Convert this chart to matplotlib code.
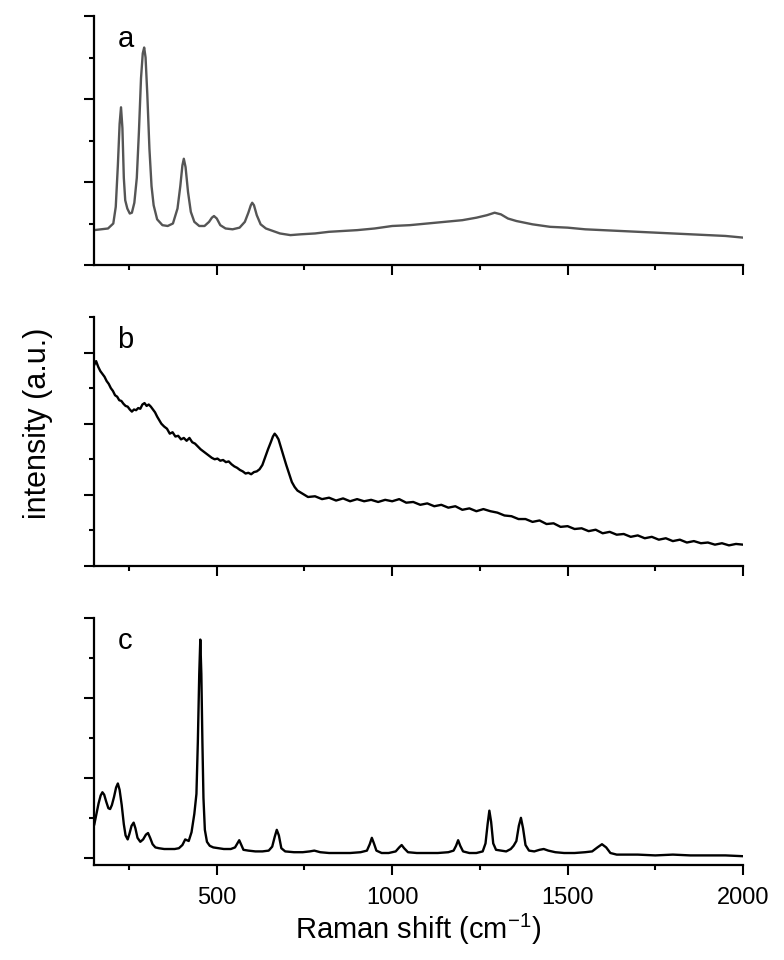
"""
Raman spectra, three stacked panels (a, b, c).
"""

import matplotlib

matplotlib.use("Agg")

import matplotlib.pyplot as plt
from matplotlib.ticker import MultipleLocator

plt.rcParams["font.family"] = ["Liberation Sans", "DejaVu Sans"]
plt.rcParams["mathtext.default"] = "regular"

# ---- data ----

shift_a = [
    150, 170, 190, 205, 212, 218, 223, 227, 231, 235, 239, 245, 252, 258,
    265, 272, 278, 284, 289, 293, 297, 302, 308, 314, 320, 330, 345, 360,
    375, 388, 396, 402, 406, 411, 418, 426, 436, 450, 465, 478, 486, 492,
    500, 510, 525, 545, 565, 580, 590, 597, 601, 606, 614, 625, 640, 660,
    680, 710, 740, 780, 820, 860, 900, 950, 1000, 1050, 1100, 1150, 1200,
    1240, 1270, 1292, 1310, 1330, 1354, 1400, 1450, 1500, 1550, 1600, 1650,
    1700, 1750, 1800, 1850, 1900, 1950, 2000,
]
intensity_a = [
    0.42, 0.43, 0.44, 0.50, 0.70, 1.20, 1.70, 1.90, 1.65, 1.05, 0.78, 0.68,
    0.62, 0.63, 0.75, 1.05, 1.60, 2.25, 2.55, 2.62, 2.50, 2.05, 1.40, 0.95,
    0.72, 0.55, 0.48, 0.47, 0.50, 0.68, 0.95, 1.20, 1.28, 1.18, 0.88, 0.64,
    0.52, 0.47, 0.47, 0.52, 0.57, 0.59, 0.56, 0.48, 0.44, 0.43, 0.45, 0.52,
    0.63, 0.72, 0.75, 0.72, 0.60, 0.49, 0.44, 0.41, 0.38, 0.36, 0.37, 0.38,
    0.40, 0.41, 0.42, 0.44, 0.47, 0.48, 0.50, 0.52, 0.54, 0.57, 0.60, 0.63,
    0.61, 0.56, 0.53, 0.49, 0.46, 0.45, 0.43, 0.42, 0.41, 0.40, 0.39, 0.38,
    0.37, 0.36, 0.35, 0.33,
]

shift_b = [
    150, 156, 162, 168, 174, 180, 186, 192, 198, 204, 210, 216, 222, 228,
    234, 240, 246, 252, 258, 264, 270, 276, 282, 288, 294, 300, 306, 312,
    318, 324, 330, 336, 342, 350, 358, 366, 374, 382, 390, 398, 406, 414,
    422, 430, 438, 446, 454, 462, 470, 478, 486, 494, 502, 510, 518, 526,
    534, 542, 550, 558, 566, 574, 582, 590, 598, 606, 614, 622, 630, 638,
    646, 654, 660, 665, 670, 676, 682, 690, 698, 706, 714, 722, 730, 740,
    760, 780, 800, 820, 840, 860, 880, 900, 920, 940, 960, 980, 1000, 1020,
    1040, 1060, 1080, 1100, 1120, 1140, 1160, 1180, 1200, 1220, 1240, 1260,
    1280, 1300, 1320, 1340, 1360, 1380, 1400, 1420, 1440, 1460, 1480, 1500,
    1520, 1540, 1560, 1580, 1600, 1620, 1640, 1660, 1680, 1700, 1720, 1740,
    1760, 1780, 1800, 1820, 1840, 1860, 1880, 1900, 1920, 1940, 1960, 1980,
    2000,
]
intensity_b = [
    2.82, 2.88, 2.80, 2.74, 2.70, 2.66, 2.60, 2.56, 2.50, 2.46, 2.40, 2.38,
    2.33, 2.32, 2.28, 2.25, 2.24, 2.20, 2.17, 2.20, 2.19, 2.22, 2.21, 2.27,
    2.29, 2.25, 2.27, 2.24, 2.20, 2.16, 2.10, 2.05, 2.00, 1.96, 1.93, 1.86,
    1.88, 1.82, 1.83, 1.78, 1.80, 1.76, 1.80, 1.74, 1.72, 1.68, 1.64, 1.61,
    1.58, 1.55, 1.52, 1.50, 1.51, 1.48, 1.49, 1.46, 1.47, 1.43, 1.40, 1.38,
    1.35, 1.33, 1.30, 1.31, 1.29, 1.32, 1.33, 1.36, 1.42, 1.53, 1.64, 1.74,
    1.82, 1.86, 1.83, 1.78, 1.68, 1.55, 1.42, 1.30, 1.18, 1.11, 1.06, 1.03,
    0.97, 0.98, 0.94, 0.96, 0.92, 0.95, 0.91, 0.94, 0.91, 0.93, 0.90, 0.93,
    0.91, 0.94, 0.89, 0.90, 0.86, 0.88, 0.84, 0.86, 0.82, 0.84, 0.79, 0.81,
    0.77, 0.80, 0.77, 0.75, 0.71, 0.70, 0.66, 0.66, 0.62, 0.64, 0.59, 0.60,
    0.55, 0.56, 0.52, 0.53, 0.49, 0.51, 0.46, 0.48, 0.44, 0.45, 0.41, 0.43,
    0.39, 0.41, 0.37, 0.39, 0.35, 0.37, 0.33, 0.35, 0.32, 0.33, 0.30, 0.32,
    0.29, 0.31, 0.30,
]

shift_c = [
    151, 157, 163, 169, 174, 179, 185, 191, 196, 201, 207, 213, 218, 223,
    229, 235, 240, 246, 251, 257, 263, 268, 274, 282, 290, 298, 304, 310,
    317, 325, 335, 350, 365, 380, 392, 402, 410, 415, 420, 428, 436, 442,
    446, 450, 453, 456, 459, 462, 466, 472, 480, 490, 505, 520, 540, 552,
    560, 564, 569, 576, 590, 610, 630, 648, 658, 665, 671, 677, 684, 695,
    720, 745, 765, 778, 795, 820, 850, 880, 910, 928, 936, 942, 948, 955,
    970, 990, 1010, 1020, 1027, 1034, 1045, 1070, 1100, 1130, 1160, 1175,
    1182, 1188, 1194, 1202, 1220, 1240, 1258, 1266, 1272, 1277, 1282, 1288,
    1296, 1310, 1325, 1338, 1346, 1354, 1361, 1367, 1373, 1380, 1390, 1405,
    1420, 1432, 1445, 1465, 1490, 1520, 1550, 1570, 1585, 1598, 1610, 1622,
    1640, 1700, 1750, 1800, 1850, 1900, 1950, 2000,
]
intensity_c = [
    0.42, 0.55, 0.68, 0.78, 0.82, 0.79, 0.70, 0.62, 0.61, 0.66, 0.76, 0.88,
    0.93, 0.85, 0.66, 0.42, 0.28, 0.23, 0.30, 0.40, 0.44, 0.37, 0.25, 0.20,
    0.23, 0.29, 0.31, 0.25, 0.17, 0.13, 0.12, 0.11, 0.11, 0.11, 0.12, 0.16,
    0.23, 0.22, 0.21, 0.32, 0.55, 0.80, 1.45, 2.30, 2.73, 2.30, 1.45, 0.75,
    0.35, 0.20, 0.15, 0.13, 0.12, 0.11, 0.11, 0.13, 0.19, 0.22, 0.17, 0.10,
    0.09, 0.08, 0.08, 0.09, 0.14, 0.26, 0.35, 0.28, 0.12, 0.08, 0.07, 0.07,
    0.08, 0.09, 0.07, 0.06, 0.06, 0.06, 0.07, 0.09, 0.17, 0.25, 0.18, 0.09,
    0.06, 0.06, 0.08, 0.13, 0.16, 0.12, 0.07, 0.06, 0.06, 0.06, 0.07, 0.09,
    0.15, 0.22, 0.15, 0.08, 0.06, 0.06, 0.08, 0.18, 0.42, 0.59, 0.45, 0.18,
    0.10, 0.09, 0.08, 0.11, 0.15, 0.21, 0.40, 0.50, 0.37, 0.16, 0.09, 0.08,
    0.10, 0.11, 0.09, 0.07, 0.06, 0.06, 0.07, 0.08, 0.13, 0.17, 0.13, 0.06,
    0.04, 0.04, 0.03, 0.04, 0.03, 0.03, 0.03, 0.02,
]

panel_letters = ["a", "b", "c"]
panel_ylims = [(0, 3), (0, 3.5), (-0.09, 3)]
line_colors = ["#555555", "black", "black"]

x_ticks = [500, 1000, 1500, 2000]


def style_axis(ax):

    for side in ["top", "right"]:
        ax.spines[side].set_visible(False)

    for side in ["left", "bottom"]:
        ax.spines[side].set_linewidth(1.6)

    ax.xaxis.set_major_locator(MultipleLocator(500))
    ax.xaxis.set_minor_locator(MultipleLocator(250))
    ax.yaxis.set_major_locator(MultipleLocator(1))
    ax.yaxis.set_minor_locator(MultipleLocator(0.5))

    ax.tick_params(which="major", direction="out", length=7, width=1.5,
                   labelsize=17, pad=9)
    ax.tick_params(which="minor", direction="out", length=3.5, width=1.5)
    ax.tick_params(axis="y", labelleft=False)


def main():

    fig = plt.figure(figsize=(7.84, 9.6), dpi=100)

    left = 94 / 784
    width = 649 / 784
    boxes = [
        (1 - 265 / 960, 249 / 960),
        (1 - 566 / 960, 249 / 960),
        (1 - 865 / 960, 247 / 960),
    ]

    series = [
        (shift_a, intensity_a),
        (shift_b, intensity_b),
        (shift_c, intensity_c),
    ]

    axes = []

    for i, (bottom, height) in enumerate(boxes):

        ax = fig.add_axes([left, bottom, width, height])

        xs, ys = series[i]

        ax.plot(xs, ys, color=line_colors[i], linewidth=1.7)

        ax.set_xlim(150, 2000)
        ax.set_ylim(*panel_ylims[i])

        style_axis(ax)

        ax.text(0.036, 0.875, panel_letters[i],
                transform=ax.transAxes,
                fontsize=21,
                ha="left",
                va="baseline")

        if i < 2:
            ax.tick_params(axis="x", labelbottom=False)
        else:
            ax.set_xticks(x_ticks)

        axes.append(ax)

    axes[2].set_xlabel("Raman shift (cm$^{-1}$)", fontsize=21, labelpad=2)

    fig.text(38 / 784, 1 - 423 / 960, "intensity (a.u.)",
             rotation=90, fontsize=22, ha="center", va="center")

    fig.savefig("out.png", dpi=100)

    plt.close(fig)


if __name__ == "__main__":
    main()
